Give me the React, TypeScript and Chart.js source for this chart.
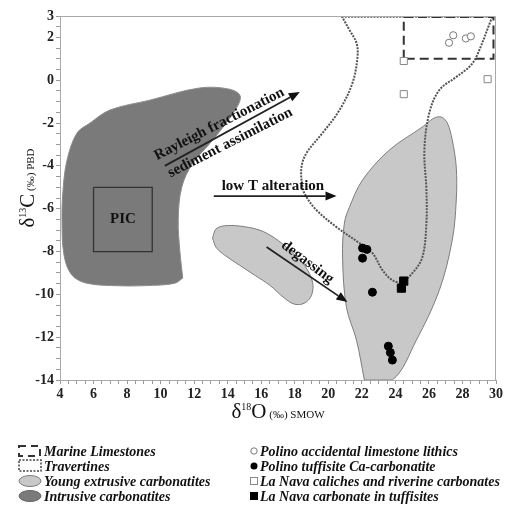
import React, { useEffect, useRef } from 'react';
import { Chart, registerables } from 'chart.js';
Chart.register(...registerables);

const X_MIN = 4, X_MAX = 30, Y_MIN = -14, Y_MAX = 3;
const xTickLabels = [4, 6, 8, 10, 12, 14, 16, 18, 20, 22, 24, 26, 28, 30];
const yTickLabels = [3, 2, 0, -2, -4, -6, -8, -10, -12, -14];

type P = [number, number];

const intrusiveCarbonatites: P[] = [
  [11.32, -9.24], [10.85, -9.48], [9.5, -9.58], [7.57, -9.6], [5.6, -9.48], [4.71, -9.1],
  [4.24, -8.17], [4.12, -6.53], [4.18, -5.13], [4.42, -3.73], [5.01, -2.47], [5.79, -2.0],
  [6.98, -1.39], [9.36, -0.93], [12.33, -0.36], [14.12, -0.42], [14.75, -0.75], [14.4, -1.45],
  [13.1, -2.8], [11.9, -3.9], [11.26, -5.0], [11.05, -6.5], [11.15, -8.0], [11.32, -9.24],
];

const youngExtrusiveSmall: P[] = [
  [13.1, -7.37], [13.3, -6.95], [13.8, -6.8], [14.71, -6.81], [15.9, -7.0], [16.8, -7.37],
  [17.69, -7.93], [18.58, -8.64], [19.06, -9.43], [19.0, -10.04], [18.58, -10.41], [17.99, -10.46],
  [17.39, -10.18], [16.5, -9.57], [15.6, -9.1], [14.71, -8.64], [13.82, -8.17], [13.3, -7.8], [13.1, -7.37],
];

const youngExtrusiveLarge: P[] = [
  [22.15, -14], [21.68, -12.14], [21.08, -10.6], [20.85, -8.26], [20.96, -6.67], [21.26, -5.93],
  [22.04, -4.66], [23.64, -3.26], [25.6, -2.19], [26.3, -1.77], [26.74, -1.72], [27.1, -2.0],
  [27.39, -2.79], [27.63, -4.06], [27.63, -5.6], [27.39, -7.47], [26.62, -9.81], [25.25, -12.14],
  [23.82, -14], [22.15, -14],
];

const travertinesCurve: P[] = [
  [20.79, 3], [21.26, 2.35], [21.68, 1.74], [21.74, 1.08], [21.44, -0.13], [20.67, -1.39],
  [19.65, -2.47], [18.7, -3.4], [18.4, -4.06], [18.46, -4.99], [18.7, -5.46], [19.3, -6.07],
  [20.49, -6.86], [21.86, -7.61], [22.63, -8.07], [23.23, -8.87], [23.82, -9.34], [24.36, -9.43],
  [25.01, -9.01], [25.61, -8.26], [25.85, -6.67], [25.85, -5.13], [25.73, -3.26], [26.02, -1.53],
  [26.62, -0.46], [27.63, 0.15], [28.4, 0.62], [28.82, 1.08], [29.77, 2.95],
];
const travertinesTop: P[] = [[20.79, 2.97], [29.8, 2.97]];

const marineLimestones: P[] = [[24.5, 1], [24.5, 2.95], [29.85, 2.95], [29.85, 1], [24.5, 1]];
const picBox: P[] = [[6, -5], [9.5, -5], [9.5, -8], [6, -8], [6, -5]];

const polinoLithics: P[] = [[27.2, 1.75], [27.45, 2.1], [28.2, 1.95], [28.5, 2.05]];
const polinoTuffisite: P[] = [
  [22.04, -7.84], [22.3, -7.9], [22.04, -8.31], [22.63, -9.9], [23.58, -12.42], [23.7, -12.72], [23.82, -13.07],
];
const laNavaCaliches: P[] = [[24.5, 0.9], [24.5, -0.65], [29.5, 0.05]];
const laNavaTuffisites: P[] = [[24.5, -9.38], [24.36, -9.71]];

// annotations (data coordinates)
const arrows: { from: P; to: P }[] = [
  { from: [10.25, -4.0], to: [18.3, -0.55] },
  { from: [13.17, -5.41], to: [20.49, -5.41] },
  { from: [16.32, -7.79], to: [21.14, -10.36] },
];
const notes: { text: string; at: P; angle: number; align: CanvasTextAlign }[] = [
  { text: 'Rayleigh fractionation', at: [13.5, -2.05], angle: -27, align: 'center' },
  { text: 'sediment assimilation', at: [14.15, -2.92], angle: -27, align: 'center' },
  { text: 'low T alteration', at: [13.64, -4.94], angle: 0, align: 'left' },
  { text: 'degassing', at: [18.76, -8.5], angle: 37, align: 'center' },
  { text: 'PIC', at: [7.75, -6.5], angle: 0, align: 'center' },
];

const legendLeft = ['Marine Limestones', 'Travertines', 'Young extrusive carbonatites', 'Intrusive carbonatites'];
const legendRight = [
  'Polino accidental limestone lithics',
  'Polino tuffisite Ca-carbonatite',
  'La Nava caliches and riverine carbonates',
  'La Nava carbonate in tuffisites',
];

const SERIF = '"Liberation Serif", "Times New Roman", serif';
const DARK_FILL = 'rgb(122,122,122)';
const DARK_EDGE = 'rgb(140,140,140)';
const LIGHT_FILL = 'rgb(200,200,200)';
const LIGHT_EDGE = 'rgb(125,125,125)';

const toXY = (a: P[]) => a.map(([x, y]) => ({ x, y }));
const range = (a: number, b: number, s: number) => {
  const r: number[] = [];
  for (let i = 0; a + i * s <= b + 1e-9; i++) r.push(a + i * s);
  return r;
};

function drawRich(ctx: CanvasRenderingContext2D, parts: { t: string; size: number; dy: number }[], x: number, y: number) {
  let total = 0;
  for (const p of parts) { ctx.font = `${p.size}px ${SERIF}`; total += ctx.measureText(p.t).width; }
  let cx = x - total / 2;
  ctx.textAlign = 'left';
  ctx.textBaseline = 'alphabetic';
  for (const p of parts) {
    ctx.font = `${p.size}px ${SERIF}`;
    ctx.fillText(p.t, cx, y + p.dy);
    cx += ctx.measureText(p.t).width;
  }
}

const overlayPlugin = {
  id: 'overlay',
  afterDatasetsDraw(chart: any) {
    const { ctx, chartArea, scales } = chart;
    const xs = scales.x, ys = scales.y;
    ctx.save();
    // frame top/right
    ctx.strokeStyle = '#aaa';
    ctx.lineWidth = 1;
    ctx.beginPath();
    ctx.moveTo(chartArea.left, chartArea.top + 0.5);
    ctx.lineTo(chartArea.right - 0.5, chartArea.top + 0.5);
    ctx.lineTo(chartArea.right - 0.5, chartArea.bottom);
    ctx.stroke();

    // arrows
    ctx.strokeStyle = '#222';
    ctx.fillStyle = '#111';
    ctx.lineWidth = 1.8;
    for (const a of arrows) {
      const x1 = xs.getPixelForValue(a.from[0]), y1 = ys.getPixelForValue(a.from[1]);
      const x2 = xs.getPixelForValue(a.to[0]), y2 = ys.getPixelForValue(a.to[1]);
      const ang = Math.atan2(y2 - y1, x2 - x1);
      const hl = 11, hw = 4.5;
      const bx = x2 - hl * Math.cos(ang), by = y2 - hl * Math.sin(ang);
      ctx.beginPath();
      ctx.moveTo(x1, y1);
      ctx.lineTo(bx, by);
      ctx.stroke();
      ctx.beginPath();
      ctx.moveTo(x2, y2);
      ctx.lineTo(bx + hw * Math.sin(ang), by - hw * Math.cos(ang));
      ctx.lineTo(bx - hw * Math.sin(ang), by + hw * Math.cos(ang));
      ctx.closePath();
      ctx.fill();
    }
    // notes
    ctx.fillStyle = '#111';
    ctx.font = `bold 15px ${SERIF}`;
    ctx.textBaseline = 'middle';
    for (const n of notes) {
      const px = xs.getPixelForValue(n.at[0]), py = ys.getPixelForValue(n.at[1]);
      ctx.save();
      ctx.translate(px, py);
      ctx.rotate((n.angle * Math.PI) / 180);
      ctx.textAlign = n.align;
      ctx.fillText(n.text, 0, 0);
      ctx.restore();
    }
    ctx.restore();
  },
  afterDraw(chart: any) {
    const { ctx, chartArea } = chart;
    ctx.save();
    ctx.fillStyle = '#111';
    // x title
    drawRich(ctx, [
      { t: 'δ', size: 21, dy: 0 },
      { t: '18', size: 10, dy: -8 },
      { t: 'O', size: 21, dy: 0 },
      { t: ' (‰) SMOW', size: 11, dy: 0 },
    ], (chartArea.left + chartArea.right) / 2, 418);
    // y title
    ctx.save();
    ctx.translate(34, 188);
    ctx.rotate(-Math.PI / 2);
    drawRich(ctx, [
      { t: 'δ', size: 21, dy: 0 },
      { t: '13', size: 10, dy: -8 },
      { t: 'C', size: 21, dy: 0 },
      { t: ' (‰) PBD', size: 11, dy: 0 },
    ], 0, 0);
    ctx.restore();

    // legend
    const rows = [451, 466, 481, 496];
    ctx.font = `italic bold 14px ${SERIF}`;
    ctx.textAlign = 'left';
    ctx.textBaseline = 'middle';
    legendLeft.forEach((label, i) => {
      const cy = rows[i];
      ctx.save();
      if (i === 0) {
        ctx.strokeStyle = '#333'; ctx.lineWidth = 2; ctx.setLineDash([7, 5]);
        ctx.strokeRect(19, cy - 5, 21, 10);
      } else if (i === 1) {
        ctx.strokeStyle = '#444'; ctx.lineWidth = 1.5; ctx.setLineDash([2, 1.5]);
        ctx.strokeRect(19, cy - 6, 22, 11);
      } else {
        ctx.beginPath();
        ctx.ellipse(30, cy, 11, 5.5, 0, 0, Math.PI * 2);
        ctx.fillStyle = i === 2 ? LIGHT_FILL : DARK_FILL;
        ctx.fill();
        ctx.strokeStyle = i === 2 ? LIGHT_EDGE : '#666';
        ctx.lineWidth = 1;
        ctx.stroke();
      }
      ctx.restore();
      ctx.fillStyle = '#111';
      ctx.fillText(label, 44, cy + 1);
    });
    legendRight.forEach((label, i) => {
      const cy = rows[i];
      const sx = 254;
      ctx.save();
      if (i === 0) {
        ctx.beginPath(); ctx.arc(sx, cy, 3.2, 0, Math.PI * 2);
        ctx.strokeStyle = '#777'; ctx.lineWidth = 1; ctx.stroke();
      } else if (i === 1) {
        ctx.beginPath(); ctx.arc(sx, cy, 3.5, 0, Math.PI * 2);
        ctx.fillStyle = '#000'; ctx.fill();
      } else if (i === 2) {
        ctx.strokeStyle = '#888'; ctx.lineWidth = 1; ctx.strokeRect(sx - 3.5, cy - 3.5, 7, 7);
      } else {
        ctx.fillStyle = '#000'; ctx.fillRect(sx - 4, cy - 4, 8, 8);
      }
      ctx.restore();
      ctx.fillStyle = '#111';
      ctx.fillText(label, 260, cy + 1);
    });
    ctx.restore();
  },
};

export default function App() {
  const ref = useRef<HTMLCanvasElement | null>(null);
  useEffect(() => {
    if (!ref.current) return;
    const poly = (data: P[], fill: string, edge: string) => ({
      type: 'scatter' as const,
      data: toXY(data),
      showLine: true,
      fill: 'shape',
      backgroundColor: fill,
      borderColor: edge,
      borderWidth: 1,
      pointRadius: 0,
      tension: 0.35,
    });
    const outline = (data: P[], color: string, width: number, dash: number[], tension: number) => ({
      type: 'scatter' as const,
      data: toXY(data),
      showLine: true,
      fill: false,
      borderColor: color,
      backgroundColor: color,
      borderWidth: width,
      borderDash: dash,
      pointRadius: 0,
      tension,
    });
    const pts = (data: P[], style: string, r: number, fill: string, edge: string) => ({
      type: 'scatter' as const,
      data: toXY(data),
      showLine: false,
      pointStyle: style,
      pointRadius: r,
      pointBackgroundColor: fill,
      pointBorderColor: edge,
      pointBorderWidth: 1,
    });
    const tickFont = { family: SERIF, size: 14, weight: 'bold' as const };
    const chart = new Chart(ref.current, {
      type: 'scatter',
      data: {
        datasets: [
          pts(laNavaTuffisites, 'rect', 5.8, '#000', '#000'),
          pts(laNavaCaliches, 'rect', 5, '#fff', '#888'),
          pts(polinoTuffisite, 'circle', 4, '#000', '#000'),
          pts(polinoLithics, 'circle', 3.6, '#fff', '#777'),
          outline(marineLimestones, '#333', 2, [9, 5], 0),
          outline(travertinesTop, '#555', 2, [2, 1.2], 0),
          outline(travertinesCurve, '#555', 2, [2, 1.2], 0.35),
          outline(picBox, '#333', 1.3, [], 0),
          poly(youngExtrusiveLarge, LIGHT_FILL, LIGHT_EDGE),
          poly(youngExtrusiveSmall, LIGHT_FILL, LIGHT_EDGE),
          poly(intrusiveCarbonatites, DARK_FILL, DARK_EDGE),
        ] as any,
      },
      options: {
        responsive: false,
        animation: false,
        events: [],
        layout: { padding: { left: 0, right: 9, top: 16, bottom: 98 } },
        plugins: { legend: { display: false }, tooltip: { enabled: false }, title: { display: false } },
        scales: {
          x: {
            type: 'linear',
            min: X_MIN,
            max: X_MAX,
            afterBuildTicks: (s: any) => { s.ticks = range(X_MIN, X_MAX, 0.5).map((v) => ({ value: v })); },
            afterFit: (s: any) => { s.height = 30; },
            ticks: {
              autoSkip: false,
              maxRotation: 0,
              color: '#222',
              padding: 2,
              font: tickFont,
              callback: (v: any) => (xTickLabels.includes(Number(v)) ? String(v) : ''),
            },
            grid: { drawOnChartArea: false, drawTicks: true, tickLength: 4, tickColor: '#999', color: '#999' },
            border: { display: true, color: '#aaa', width: 1 },
          },
          y: {
            type: 'linear',
            min: Y_MIN,
            max: Y_MAX,
            afterBuildTicks: (s: any) => { s.ticks = range(Y_MIN, Y_MAX, 0.5).map((v) => ({ value: v })); },
            afterFit: (s: any) => { s.width = 60; },
            ticks: {
              autoSkip: false,
              color: '#222',
              padding: 2,
              font: tickFont,
              callback: (v: any) => (yTickLabels.includes(Number(v)) ? String(v) : ''),
            },
            grid: { drawOnChartArea: false, drawTicks: true, tickLength: 4, tickColor: '#999', color: '#999' },
            border: { display: true, color: '#aaa', width: 1 },
          },
        },
      } as any,
      plugins: [overlayPlugin],
    });
    return () => chart.destroy();
  }, []);
  return (
    <div style={{ position: 'fixed', left: 0, top: 0, width: 505, height: 508, background: '#fff' }}>
      <canvas ref={ref} width={505} height={508} style={{ width: 505, height: 508, display: 'block' }} />
    </div>
  );
}
